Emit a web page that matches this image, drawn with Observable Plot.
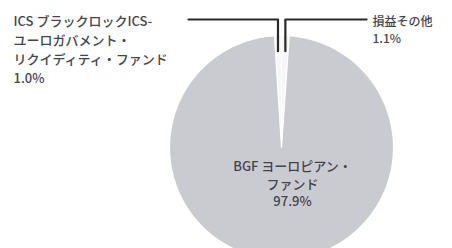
<!DOCTYPE html>
<html><head><meta charset="utf-8">
<script src="https://cdn.jsdelivr.net/npm/d3@7"></script>
<script src="https://cdn.jsdelivr.net/npm/@observablehq/plot@0.6"></script>
<style>body{margin:0;background:#fff} svg{display:block}</style>
</head><body><div id="chart"></div>
<script>
// ---- data ----
const funds = ["ICS ブラックロックICS-\nユーロガバメント・\nリクイディティ・ファンド", "損益その他", "BGF ヨーロピアン・\nファンド"];
const shares = [1.0, 1.1, 97.9];
const shareLabels = ["1.0%", "1.1%", "97.9%"];

// ---- layout (pixels) ----
const W = 452, H = 248, CX = 281, CY = 147, R = 112;
const px = (x) => (x - CX) / R;          // pixel x -> data
const py = (y) => (CY - y) / R;          // pixel y -> data
const fills = ["#f6f6f8", "#f6f6f8", "#cacbd0"];

const total = d3.sum(shares);
const arcs = d3.pie().sort(null).value(d => d)
  .startAngle(-shares[0] / total * 2 * Math.PI)
  .endAngle(2 * Math.PI - shares[0] / total * 2 * Math.PI)(shares);

// polygon points for each slice
const slicePts = [];
arcs.forEach((a, i) => {
  const n = Math.max(4, Math.ceil((a.endAngle - a.startAngle) / (Math.PI / 180)));
  slicePts.push({i, x: 0, y: 0});
  for (let k = 0; k <= n; k++) {
    const t = a.startAngle + (a.endAngle - a.startAngle) * k / n;
    slicePts.push({i, x: Math.sin(t), y: Math.cos(t)});
  }
  slicePts.push({i, x: 0, y: 0});
});

// leader lines for the two small slices
const lineY = py(19);
const leaderEnds = [px(188), px(366)];
const leaders = [];
[0, 1].forEach(i => {
  const a = arcs[i];
  const mid = (a.startAngle + a.endAngle) / 2;
  const ex = Math.sin(mid);
  leaders.push({i, x: ex, y: Math.cos(mid) * 0.86});
  leaders.push({i, x: ex, y: lineY});
  leaders.push({i, x: leaderEnds[i], y: lineY});
});

const labels = [
  {text: funds[0] + "\n" + shareLabels[0], x: px(13), y: py(48), anchor: "start", size: 13, lh: 1.44},
  {text: funds[1] + "\n" + shareLabels[1], x: px(372), y: py(28.5), anchor: "start", size: 12, lh: 1.4},
  {text: funds[2] + "\n" + shareLabels[2], x: px(292), y: py(182.5), anchor: "middle", size: 13, lh: 1.35}
];

const font = "'Noto Sans CJK JP', sans-serif";
const plot = Plot.plot({
  width: W, height: H, margin: 0,
  x: {domain: [px(0), px(W)], axis: null},
  y: {domain: [py(H), py(0)], axis: null},
  style: {fontFamily: font, background: "#fff"},
  marks: [
    Plot.line(slicePts, {x: "x", y: "y", z: "i", fill: d => fills[d.i], stroke: "#fff", strokeWidth: 1.2}),
    Plot.line(leaders, {x: "x", y: "y", z: "i", stroke: "#2a2a2a", strokeWidth: 2.2}),
    ...labels.map(l => Plot.text([l], {
      x: "x", y: "y", text: "text", textAnchor: l.anchor, lineAnchor: "middle",
      fontSize: l.size, lineHeight: l.lh, fill: "#44444c", fontWeight: 500, fontFamily: font
    }))
  ]
});
document.getElementById("chart").appendChild(plot);
</script>
</body></html>
